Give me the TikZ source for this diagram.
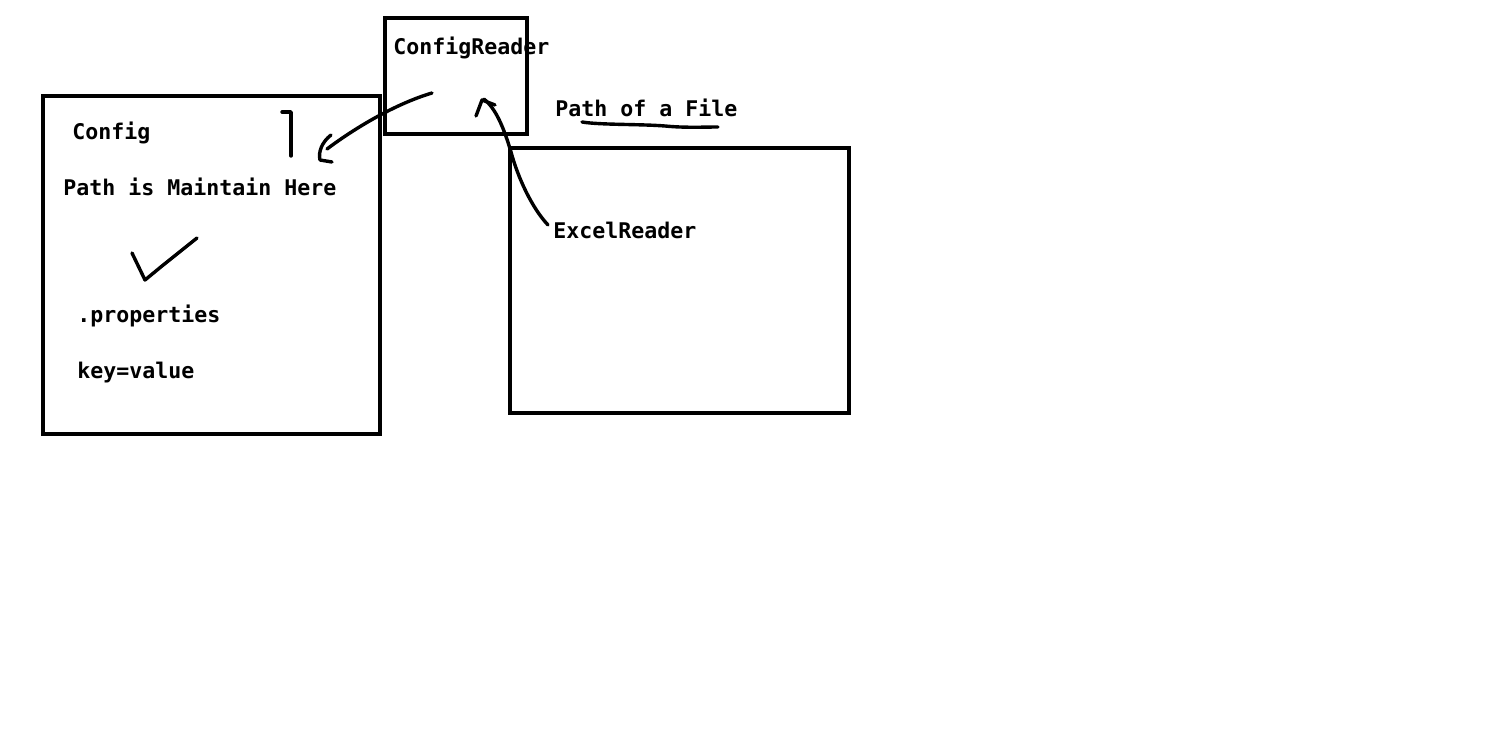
\documentclass[tikz,border=0pt]{standalone}
\usepackage{fontspec}
\setmonofont{DejaVu Sans Mono}
\begin{document}
\begin{tikzpicture}[x=0.5pt,y=-0.5pt,
    box/.style={draw, line width=2pt, inner sep=0pt},
    lbl/.style={anchor=base west, inner sep=0pt, font=\ttfamily\bfseries\fontsize{10.8}{13}\selectfont},
    pen/.style={line width=1.7pt, line cap=round, line join=round}]
    \useasboundingbox (0,0) rectangle (1508,742);

    \node[box, minimum width=168.5pt, minimum height=169pt] (cfg)   at (211.5,265) {};
    \node[box, minimum width=71pt,    minimum height=58pt]  (cfgrd) at (456,76)    {};
    \node[box, minimum width=169.5pt, minimum height=132.5pt] (xl)  at (679.5,280.5) {};

    \node[lbl] (cfgrdtxt) at (393,55)  {ConfigReader};
    \node[lbl] (cfgtxt)   at (72,140)  {Config};
    \node[lbl] (pathtxt)  at (63,196)  {Path is Maintain Here};
    \node[lbl] (proptxt)  at (77,323)  {.properties};
    \node[lbl] (keytxt)   at (77,379)  {key=value};
    \node[lbl] (filetxt)  at (555,117) {Path of a File};
    \node[lbl] (xltxt)    at (553,239) {ExcelReader};

    \coordinate (a1) at (432,93);
    \coordinate (a2) at (327,149);
    \coordinate (b1) at (548,225);
    \coordinate (b2) at (484,99);

    % hand drawn marks
    \draw[pen] (282,112) -- (291,112) -- (291,156);
    \draw[pen] (a1) .. controls (395,104) and (355,128) .. (a2);
    \draw[pen] (331,135) .. controls (322,142) and (318,152) .. (320,160) -- (332,162);
    \draw[pen] (b1) .. controls (532,208) and (518,178) .. (511,152)
                    .. controls (503,125) and (495,108) .. (b2);
    \draw[pen] (476,116) -- (482,100) -- (495,105);
    \draw[pen] (582,122) .. controls (600,125) and (640,124) .. (665,126)
                         .. controls (685,128) and (705,127) .. (718,127);
    \draw[pen] (132,253) -- (145,280) -- (162,266) -- (197,238);
\end{tikzpicture}
\end{document}
